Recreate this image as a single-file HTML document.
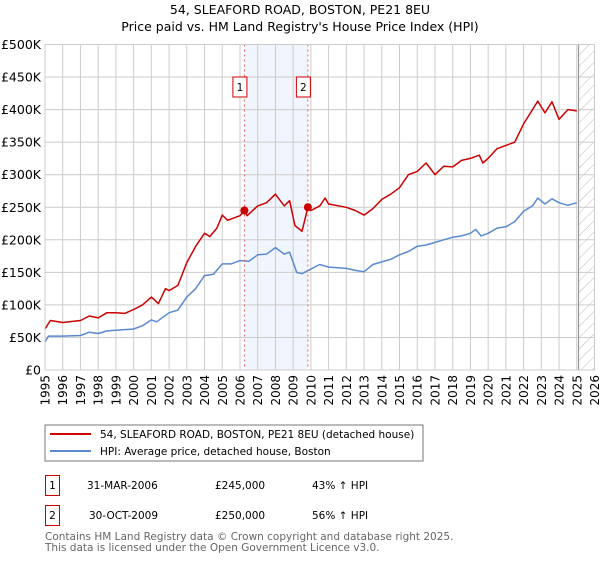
<!DOCTYPE html>
<html><head><meta charset="utf-8"><style>
body{margin:0;background:#fff;font-family:"Liberation Sans","DejaVu Sans",sans-serif;}
svg text{font-family:"DejaVu Sans","Liberation Sans",sans-serif;}
</style></head><body>
<svg id="chart" width="600" height="560" viewBox="0 0 600 560">
<defs><pattern id="hatch" width="8" height="8" patternUnits="userSpaceOnUse" patternTransform="rotate(45)"><line x1="0" y1="0" x2="0" y2="8" stroke="#bbb" stroke-width="1"/></pattern></defs>
<text x="300" y="14" text-anchor="middle" font-size="12.5" fill="#000">54, SLEAFORD ROAD, BOSTON, PE21 8EU</text>
<text x="300" y="31" text-anchor="middle" font-size="12.5" fill="#000">Price paid vs. HM Land Registry's House Price Index (HPI)</text>
<g id="grid"></g>
<g id="marks"></g>
<rect x="45" y="425" width="378" height="36" fill="#fff" stroke="#777"/>
<line x1="50" y1="434" x2="91" y2="434" stroke="#cc0000" stroke-width="2"/>
<text x="100" y="438" font-size="10.5">54, SLEAFORD ROAD, BOSTON, PE21 8EU (detached house)</text>
<line x1="50" y1="451" x2="91" y2="451" stroke="#5b8ad0" stroke-width="2"/>
<text x="100" y="455" font-size="10.5">HPI: Average price, detached house, Boston</text>
<g>
<rect x="45.5" y="475.5" width="14" height="20" fill="#fff" stroke="#cc0000"/>
<text x="52.5" y="489" text-anchor="middle" font-size="10.5">1</text>
<text x="87" y="489" font-size="10.5">31-MAR-2006</text>
<text x="215" y="489" font-size="10.5">£245,000</text>
<text x="312" y="489" font-size="10.5">43% ↑ HPI</text></g>
<g>
<rect x="45.5" y="505.5" width="14" height="20" fill="#fff" stroke="#cc0000"/>
<text x="52.5" y="519" text-anchor="middle" font-size="10.5">2</text>
<text x="89" y="519" font-size="10.5">30-OCT-2009</text>
<text x="215" y="519" font-size="10.5">£250,000</text>
<text x="312" y="519" font-size="10.5">56% ↑ HPI</text></g>
<text x="45" y="540" font-size="10.5" fill="#666">Contains HM Land Registry data © Crown copyright and database right 2025.</text>
<text x="45" y="551" font-size="10.5" fill="#666">This data is licensed under the Open Government Licence v3.0.</text>
</svg>
<script>
const yTicks=[0,50,100,150,200,250,300,350,400,450,500];
const yTickLabels=["£0","£50K","£100K","£150K","£200K","£250K","£300K","£350K","£400K","£450K","£500K"];
const xYears=[1995,1996,1997,1998,1999,2000,2001,2002,2003,2004,2005,2006,2007,2008,2009,2010,2011,2012,2013,2014,2015,2016,2017,2018,2019,2020,2021,2022,2023,2024,2025,2026];
const hpiT=[1995,1995.2,1996,1997,1997.5,1998,1998.5,1999,2000,2000.5,2001,2001.3,2002,2002.5,2003,2003.5,2004,2004.5,2005,2005.5,2006,2006.5,2007,2007.5,2008,2008.5,2008.8,2009.2,2009.5,2010,2010.5,2011,2012,2012.5,2013,2013.5,2014,2014.5,2015,2015.5,2016,2016.5,2017,2017.5,2018,2018.5,2019,2019.3,2019.6,2020,2020.5,2021,2021.5,2022,2022.5,2022.8,2023.2,2023.6,2024,2024.5,2025];
const hpiV=[43,52,52,53,58,56,60,61,63,68,77,74,88,92,112,125,145,147,163,163,168,167,177,178,188,178,181,150,148,155,162,158,156,153,151,162,166,170,177,182,190,192,196,200,204,206,210,216,206,210,218,220,228,244,252,264,255,263,257,253,257];
const priceT=[1995,1995.3,1996,1997,1997.5,1998,1998.5,1999,1999.5,2000,2000.5,2001,2001.4,2001.8,2002,2002.5,2003,2003.5,2004,2004.3,2004.7,2005,2005.3,2006,2006.25,2006.4,2007,2007.5,2008,2008.5,2008.8,2009.1,2009.5,2009.83,2010,2010.5,2010.8,2011,2012,2012.5,2013,2013.5,2014,2014.5,2015,2015.5,2016,2016.5,2017,2017.5,2018,2018.5,2019,2019.5,2019.7,2020,2020.5,2021,2021.5,2022,2022.5,2022.8,2023.2,2023.6,2024,2024.5,2025];
const priceV=[63,76,73,76,83,80,88,88,87,93,100,112,102,125,122,130,165,190,210,205,218,238,230,237,245,237,252,257,270,252,260,222,213,250,245,252,264,255,250,245,238,248,262,270,280,300,305,318,300,313,312,322,325,330,318,325,340,345,350,378,400,413,395,412,385,400,398];
const saleT=[2006.25,2009.83];
const saleV=[245,250];
const saleLabels=["1","2"];

const NS="http://www.w3.org/2000/svg";
const L=45,R=594.5,T=44.5,B=370;
const X=t=>L+(t-1995)*(R-L)/31;
const Y=v=>B-v*(B-T)/500;
function mk(tag,at,parent){const e=document.createElementNS(NS,tag);for(const k in at)e.setAttribute(k,at[k]);parent.appendChild(e);return e;}
const grid=document.getElementById('grid'),marks=document.getElementById('marks');
const shade=mk('rect',{x:X(saleT[0]),y:T,width:X(saleT[1])-X(saleT[0]),height:B-T,fill:'#eef2fc',opacity:0.8},grid);


const hatch=mk('rect',{x:X(2025.1),y:T,width:R-X(2025.1),height:B-T,fill:'url(#hatch)'},grid);


xYears.forEach(y=>{
 const g=mk('line',{x1:X(y),x2:X(y),y1:T,y2:B,stroke:'#ccc','stroke-width':1},grid);
 
 
 const tx=mk('text',{x:0,y:0,'font-size':12,'text-anchor':'end',transform:`translate(${X(y)+4.5},375) rotate(-90)`},grid);
 tx.textContent=y;
 
 
});
yTicks.forEach((v,i)=>{
 const g=mk('line',{x1:L,x2:R,y1:Y(v),y2:Y(v),stroke:'#ccc','stroke-width':1},grid);
 
 
 const tx=mk('text',{x:41,y:Y(v)+4.5,'font-size':12.5,'text-anchor':'end'},grid);
 tx.textContent=yTickLabels[i];
 
 
});
const endLine=mk('line',{x1:X(2025.1),x2:X(2025.1),y1:T,y2:B,stroke:'#999','stroke-width':1.2},grid);


function pts(ts,vs){return ts.map((t,i)=>X(t).toFixed(1)+','+Y(vs[i]).toFixed(1)).join(' ');}
const hl=mk('polyline',{points:pts(hpiT,hpiV),fill:'none',stroke:'#5b8ad0','stroke-width':1.5,'stroke-linejoin':'round'},marks);


const pl=mk('polyline',{points:pts(priceT,priceV),fill:'none',stroke:'#cc0000','stroke-width':1.5,'stroke-linejoin':'round'},marks);


saleT.forEach((t,i)=>{
 const vl=mk('line',{x1:X(t),x2:X(t),y1:T,y2:B,stroke:'#e06060','stroke-width':1,'stroke-dasharray':'2,3'},marks);
 
 
 const c=mk('circle',{cx:X(t),cy:Y(saleV[i]),r:4,fill:'#cc0000'},marks);
 
 
 const bx=mk('rect',{x:X(t)-11.5,y:77,width:14,height:20,fill:'#fff',stroke:'#cc0000'},marks);
 
 
 const lt=mk('text',{x:X(t)-4.5,y:91,'font-size':10.5,'text-anchor':'middle'},marks);
 lt.textContent=saleLabels[i];
 
 
});
const frame=mk('rect',{x:L,y:T,width:R-L,height:B-T,fill:'none',stroke:'#ccc'},marks);


</script>
</body></html>
